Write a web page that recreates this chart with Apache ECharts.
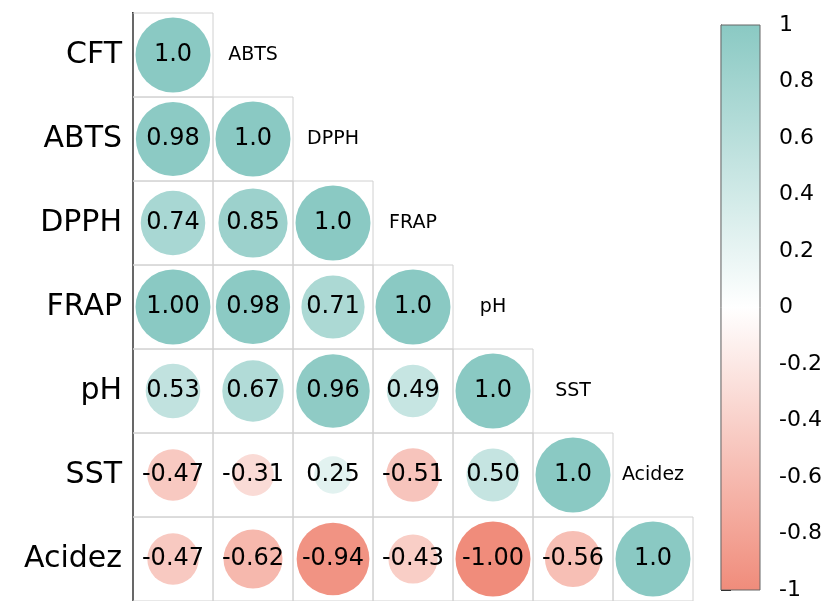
<!DOCTYPE html>
<html>
<head>
<meta charset="utf-8">
<script src="https://cdn.jsdelivr.net/npm/echarts@6/dist/echarts.min.js"></script>
<style>
  html, body { margin: 0; padding: 0; background: #fff; }
  #chart { width: 826px; height: 601px; }
</style>
</head>
<body>
<div id="chart"></div>
<script>
// variable names, top to bottom / left to right
const varNames = ['CFT', 'ABTS', 'DPPH', 'FRAP', 'pH', 'SST', 'Acidez'];

// lower triangle of the correlation matrix, one row per variable
const rowCFT    = [1];
const rowABTS   = [0.98, 1];
const rowDPPH   = [0.74, 0.85, 1];
const rowFRAP   = [1.00, 0.98, 0.71, 1];
const rowPH     = [0.53, 0.67, 0.96, 0.49, 1];
const rowSST    = [-0.47, -0.31, 0.25, -0.51, 0.50, 1];
const rowAcidez = [-0.47, -0.62, -0.94, -0.43, -1.00, -0.56, 1];
const corrRows = [rowCFT, rowABTS, rowDPPH, rowFRAP, rowPH, rowSST, rowAcidez];

// colour bar ticks
const barTicks = [-1, -0.8, -0.6, -0.4, -0.2, 0, 0.2, 0.4, 0.6, 0.8, 1];

const posColor = '#8AC9C3';
const negColor = '#F08C7B';
const fontFam = 'DejaVu Sans';
const maxDiam = 75;

// [col, row, value]
const cells = [];
corrRows.forEach((row, r) => {
  row.forEach((v, c) => cells.push([c, r, v]));
});
// diagonal name labels sit one cell to the right of the diagonal
const diagNames = varNames.slice(1).map((n, i) => [i + 1, i, n]);

const chart = echarts.init(document.getElementById('chart'));

chart.setOption({
  animation: false,
  grid: [
    { left: 133, top: 13, width: 560, height: 590 },
    { left: 721, top: 25, width: 39, height: 569 }
  ],
  xAxis: [
    { type: 'category', gridIndex: 0, data: varNames, show: false },
    { type: 'value', gridIndex: 1, min: 0, max: 1, show: false }
  ],
  yAxis: [
    {
      type: 'category', gridIndex: 0, data: varNames, inverse: true,
      axisLine: { show: true, lineStyle: { color: '#000', width: 2 } },
      axisTick: { show: false },
      axisLabel: { fontSize: 30, color: '#000', fontFamily: fontFam, margin: 11 },
      splitLine: { show: false }
    },
    {
      type: 'value', gridIndex: 1, position: 'right', min: -1, max: 1, interval: 0.2,
      axisLine: { show: true, lineStyle: { color: '#000', width: 1.2 } },
      axisTick: { show: true, length: 10, lineStyle: { color: '#000' } },
      axisLabel: {
        fontSize: 22, color: '#000', fontFamily: fontFam, margin: 19,
        formatter: v => barTicks.includes(Math.round(v * 10) / 10) ? String(Math.round(v * 10) / 10) : ''
      },
      splitLine: { show: false }
    }
  ],
  visualMap: {
    show: false,
    type: 'continuous',
    min: -1,
    max: 1,
    dimension: 2,
    seriesIndex: 1,
    inRange: { color: [negColor, '#FFFFFF', posColor] }
  },
  series: [
    {
      // cell borders
      type: 'custom',
      xAxisIndex: 0, yAxisIndex: 0,
      data: cells,
      renderItem: (params, api) => {
        const p = api.coord([api.value(0), api.value(1)]);
        const s = api.size([1, 1]);
        return {
          type: 'rect',
          shape: { x: p[0] - s[0] / 2, y: p[1] - s[1] / 2, width: s[0], height: s[1] },
          style: { fill: 'none', stroke: '#D0D0D0', lineWidth: 1 }
        };
      },
      z: 1
    },
    {
      // correlation circles
      type: 'scatter',
      xAxisIndex: 0, yAxisIndex: 0,
      data: cells,
      symbol: 'circle',
      symbolSize: d => maxDiam * Math.sqrt(Math.abs(d[2])),
      itemStyle: { opacity: 1 },
      label: {
        show: true,
        position: 'inside',
        color: '#000',
        fontSize: 24,
        fontFamily: fontFam,
        formatter: p => p.data[0] === p.data[1] ? '1.0' : p.data[2].toFixed(2)
      },
      z: 2
    },
    {
      // names along the diagonal
      type: 'scatter',
      xAxisIndex: 0, yAxisIndex: 0,
      data: diagNames,
      symbolSize: 0,
      itemStyle: { opacity: 1 },
      label: {
        show: true,
        position: 'inside',
        color: '#000',
        fontSize: 19,
        fontFamily: fontFam,
        formatter: p => p.data[2]
      },
      z: 3
    },
    {
      // colour bar
      type: 'custom',
      xAxisIndex: 1, yAxisIndex: 1,
      data: [[0, 1, 1, -1]],
      renderItem: (params, api) => {
        const a = api.coord([api.value(0), api.value(1)]);
        const b = api.coord([api.value(2), api.value(3)]);
        return {
          type: 'rect',
          shape: { x: a[0], y: a[1], width: b[0] - a[0], height: b[1] - a[1] },
          style: {
            fill: new echarts.graphic.LinearGradient(0, 0, 0, 1, [
              { offset: 0, color: posColor },
              { offset: 0.5, color: '#FFFFFF' },
              { offset: 1, color: negColor }
            ]),
            stroke: '#666',
            lineWidth: 1
          }
        };
      },
      z: 1
    }
  ]
});
</script>
</body>
</html>
